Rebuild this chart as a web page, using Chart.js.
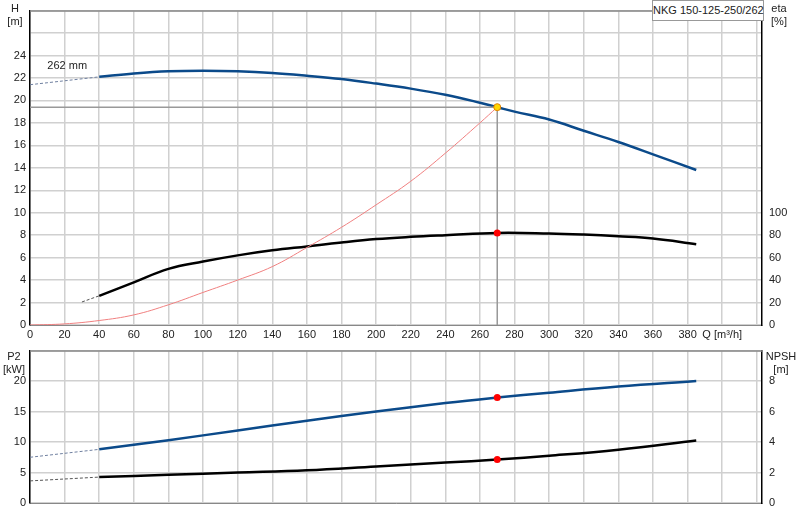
<!DOCTYPE html><html><head><meta charset="utf-8">
<script src="https://cdn.jsdelivr.net/npm/chart.js@4/dist/chart.umd.min.js"></script>
<style>body{margin:0;background:#fff;width:800px;height:520px;position:relative;font-family:"Liberation Sans",sans-serif}
canvas{position:absolute;left:0}
.t{position:absolute;font-size:11px;color:#222;text-align:center;line-height:13px;white-space:nowrap}
</style></head><body>
<canvas id="c1" style="top:0" width="800" height="340"></canvas>
<canvas id="c2" style="top:340px" width="800" height="180"></canvas>
<div class="t" style="left:2px;top:2px;width:26px">H<br>[m]</div>
<div class="t" style="left:764px;top:2px;width:30px">eta<br>[%]</div>
<div class="t" style="left:0px;top:350px;width:28px">P2<br>[kW]</div>
<div class="t" style="left:762px;top:350px;width:38px">NPSH<br>[m]</div>
<div class="t" style="left:652px;top:0px;width:110px;height:19px;border:1px solid #999;line-height:19px;background:#fff">NKG 150-125-250/262</div>
<script>
const qH=[40,60,80,100,120,140,160,180,200,220,240,260,270,280,300,320,340,360,385];
const H=[22.1,22.4,22.6,22.65,22.6,22.45,22.2,21.9,21.5,21.05,20.5,19.8,19.4,19.0,18.3,17.3,16.3,15.2,13.8];
const qHd=[0,40], Hd=[21.4,22.1];
const qEta=[40,60,80,100,120,140,160,180,200,220,240,270,300,320,340,360,385];
const eta=[26,38,50,56.5,62,66.5,70,73.5,76.5,78.5,80,82,81.5,80.5,79,77,72];
const qEtad=[30,40], etad=[20.5,26];
const qSys=[0,20,40,60,80,100,120,140,160,180,200,220,240,260,270];
const sys=[0,0.1,0.4,0.9,1.8,2.9,4.0,5.2,6.9,8.7,10.7,12.8,15.3,18.0,19.4];
const qP=[40,80,120,160,200,240,270,300,340,385];
const P2=[8.8,10.3,11.9,13.5,15.0,16.4,17.3,18.1,19.1,20.0];
const qPd=[0,40], P2d=[7.5,8.8];
const qN=[40,80,120,160,200,240,270,300,340,385];
const npsh=[1.7,1.85,2.0,2.15,2.4,2.65,2.85,3.1,3.5,4.1];
const qNd=[0,40], npshd=[1.45,1.7];
const duty={q:270,H:19.4,eta:82,P2:17.3,npsh:2.85};
const xt=[0,20,40,60,80,100,120,140,160,180,200,220,240,260,280,300,320,340,360,380,400,420];

const pts=(xs,ys)=>xs.map((x,i)=>({x,y:ys[i]}));
const line=(d,c,w,axis,dash,t)=>({data:d,borderColor:c,borderWidth:w,pointRadius:0,yAxisID:axis,borderDash:dash||[],tension:t===undefined?0.4:t,fill:false});
const grid={color:'#d0d0d0',lineWidth:1.5,drawTicks:false};
const font={family:'Liberation Sans',size:11};
function xScale(show){return {type:'linear',min:0,max:423,afterBuildTicks:a=>{a.ticks=xt.map(v=>({value:v}))},
 grid:grid,border:{color:'#888'},
 ticks:{display:show,autoSkip:false,color:'#222',font:font,padding:3,maxRotation:0,callback:v=>v==400?'Q [m³/h]':(v>400?'':v)},
 afterFit:s=>{s.height=show?15:17}};}
const dots={id:'dots',afterDatasetsDraw(ch,a,o){const c=ch.ctx;(o.list||[]).forEach(p=>{const x=ch.scales.x.getPixelForValue(p.x),y=ch.scales[p.ax].getPixelForValue(p.y);c.beginPath();c.arc(x,y,3.5,0,7);c.fillStyle=p.f;c.fill();if(p.s){c.strokeStyle=p.s;c.lineWidth=1;c.stroke();}});
 const A=ch.chartArea;c.strokeStyle='#888';c.lineWidth=1.5;c.beginPath();c.moveTo(A.left,A.top+0.5);c.lineTo(A.right,A.top+0.5);c.stroke();
 if(o.text){c.font='11px Liberation Sans';c.fillStyle='#222';c.fillText('262 mm',ch.scales.x.getPixelForValue(10),ch.scales.y.getPixelForValue(22.8));}}};
new Chart(document.getElementById('c1'),{type:'line',data:{datasets:[
 line([{x:0,y:duty.H},{x:duty.q,y:duty.H},{x:duty.q,y:0}],'#999',1.5,'y',[],0),
 line(pts(qSys,sys),'#f08080',1,'y'),
 line(pts(qHd,Hd),'#7080a0',1,'y',[3,2]),
 line(pts(qH,H),'#0b4a8a',2.5,'y'),
 line(pts(qEtad,etad),'#555',1,'y2',[3,2]),
 line(pts(qEta,eta),'#000',2.5,'y2')]},
 options:{responsive:false,animation:false,plugins:{legend:{display:false},tooltip:{enabled:false},
 dots:{text:true,list:[{x:duty.q,y:duty.H,ax:'y',f:'#ffd700',s:'#e08000'},{x:duty.q,y:duty.eta,ax:'y2',f:'#f00'}]}},
 scales:{x:xScale(true),
 y:{min:0,max:28,position:'left',afterBuildTicks:a=>{a.ticks=[0,2,4,6,8,10,12,14,16,18,20,22,24,26,28].map(v=>({value:v}))},grid:grid,border:{color:'#000',width:1.5},ticks:{autoSkip:false,color:'#222',font:font,padding:4,callback:v=>v>24?'':v},afterFit:s=>{s.width=30}},
 y2:{min:0,max:280,position:'right',afterBuildTicks:a=>{a.ticks=[0,20,40,60,80,100].map(v=>({value:v}))},grid:{display:false,drawTicks:true,tickLength:4},border:{color:'#000',width:1.5},ticks:{color:'#222',font:font,padding:3},afterFit:s=>{s.width=38}}}},
 plugins:[dots]});
new Chart(document.getElementById('c2'),{type:'line',data:{datasets:[
 line(pts(qPd,P2d),'#7080a0',1,'y',[3,2]),
 line(pts(qP,P2),'#0b4a8a',2.5,'y'),
 line(pts(qNd,npshd),'#555',1,'y2',[3,2]),
 line(pts(qN,npsh),'#000',2.5,'y2')]},
 options:{responsive:false,animation:false,layout:{padding:{top:10}},plugins:{legend:{display:false},tooltip:{enabled:false},
 dots:{list:[{x:duty.q,y:duty.P2,ax:'y',f:'#f00'},{x:duty.q,y:duty.npsh,ax:'y2',f:'#f00'}]}},
 scales:{x:xScale(false),
 y:{min:0,max:25,position:'left',afterBuildTicks:a=>{a.ticks=[0,5,10,15,20,25].map(v=>({value:v}))},grid:grid,border:{color:'#000',width:1.5},ticks:{color:'#222',font:font,padding:4,callback:v=>v>20?'':v},afterFit:s=>{s.width=30}},
 y2:{min:0,max:10,position:'right',afterBuildTicks:a=>{a.ticks=[0,2,4,6,8,10].map(v=>({value:v}))},grid:{display:false,drawTicks:true,tickLength:4},border:{color:'#000',width:1.5},ticks:{color:'#222',font:font,padding:3,callback:v=>v>8?'':v},afterFit:s=>{s.width=38}}}},
 plugins:[dots]});
</script></body></html>
